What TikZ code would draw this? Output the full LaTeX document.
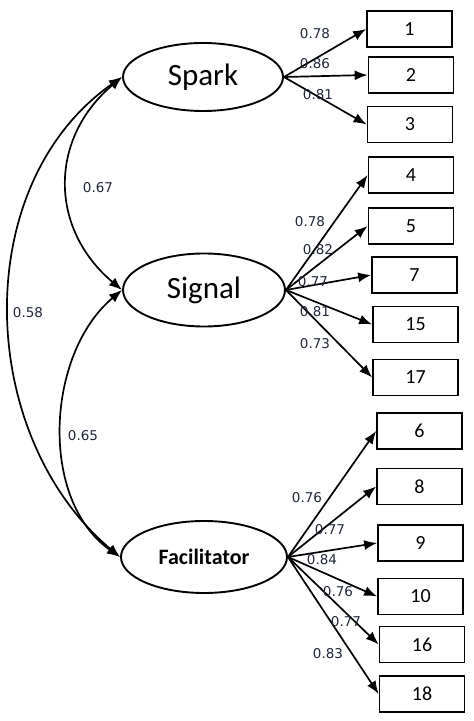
\documentclass[tikz,border=0pt]{standalone}
\usepackage{fontspec}
\setmainfont{Carlito}
\newfontfamily\labfont{DejaVu Sans}
\usetikzlibrary{shapes.geometric,arrows.meta}
\definecolor{labcol}{RGB}{30,38,55}
\begin{document}
\begin{tikzpicture}[x=1pt,y=1pt,
  lat/.style={ellipse,draw,line width=1.9pt,inner sep=0pt},
  ind/.style={draw,line width=1.7pt,minimum width=85pt,minimum height=36pt,inner sep=0pt,font=\fontsize{20}{20}\selectfont},
  load/.style={-{Latex[length=13pt,width=10pt]},line width=1.7pt},
  cov/.style={{Latex[length=13pt,width=10pt]}-{Latex[length=13pt,width=10pt]},line width=1.7pt},
  lab/.style={font=\labfont\fontsize{13.5}{13.5}\selectfont,text=labcol,inner sep=0pt}]
\useasboundingbox (0,0) rectangle (474,721);
% latent variables
\node[lat,minimum width=160pt,minimum height=68pt,font=\fontsize{31}{31}\selectfont] (spark) at (203,644) {Spark};
\node[lat,minimum width=162pt,minimum height=73pt,font=\fontsize{31}{31}\selectfont] (signal) at (204,431) {Signal};
\node[lat,minimum width=166pt,minimum height=72pt,font=\fontsize{22}{22}\selectfont\bfseries] (facil) at (204,164) {Facilitator};
% indicators
\node[ind] (b1) at (409.5,692) {1};
\node[ind] (b2) at (411,646) {2};
\node[ind] (b3) at (410,596.5) {3};
\node[ind] (b4) at (411,546) {4};
\node[ind] (b5) at (411,495) {5};
\node[ind] (b7) at (414.5,446) {7};
\node[ind] (b15) at (415.5,396.5) {15};
\node[ind] (b17) at (415.5,343.5) {17};
\node[ind] (b6) at (419.5,290) {6};
\node[ind] (b8) at (419.5,234.5) {8};
\node[ind] (b9) at (420.5,178) {9};
\node[ind] (b10) at (420.5,124.5) {10};
\node[ind] (b16) at (422,76.5) {16};
\node[ind] (b18) at (422,27) {18};
% loadings
\foreach \b in {b1,b2,b3} \draw[load] (spark.east) -- (\b.west);
\foreach \b in {b4,b5,b7,b15,b17} \draw[load] (signal.east) -- (\b.west);
\foreach \b in {b6,b8,b9,b10,b16,b18} \draw[load] (facil.east) -- (\b.west);
% covariances
\draw[cov] (spark.west) to[out=220,in=140,looseness=1.15] (signal.west);
\draw[cov] (signal.west) to[out=220,in=145,looseness=0.95] (facil.west);
\draw[cov] (spark.west) to[out=215,in=140,looseness=1] (facil.west);
% labels
\node[lab] (l1) at (315,687) {0.78};
\node[lab] (l2) at (315,657) {0.86};
\node[lab] (l3) at (318,626) {0.81};
\node[lab] (l4) at (310,499) {0.78};
\node[lab] (l5) at (318,471) {0.82};
\node[lab] (l7) at (313,439) {0.77};
\node[lab] (l15) at (315,409) {0.81};
\node[lab] (l17) at (315,377) {0.73};
\node[lab] (l6) at (307,223) {0.76};
\node[lab] (l8) at (330,191) {0.77};
\node[lab] (l9) at (322,161) {0.84};
\node[lab] (l10) at (338,129) {0.76};
\node[lab] (l16) at (346,99) {0.77};
\node[lab] (l18) at (328,67) {0.83};
\node[lab] (c1) at (98,533) {0.67};
\node[lab] (c2) at (28,408) {0.58};
\node[lab] (c3) at (83,285) {0.65};
\end{tikzpicture}
\end{document}
